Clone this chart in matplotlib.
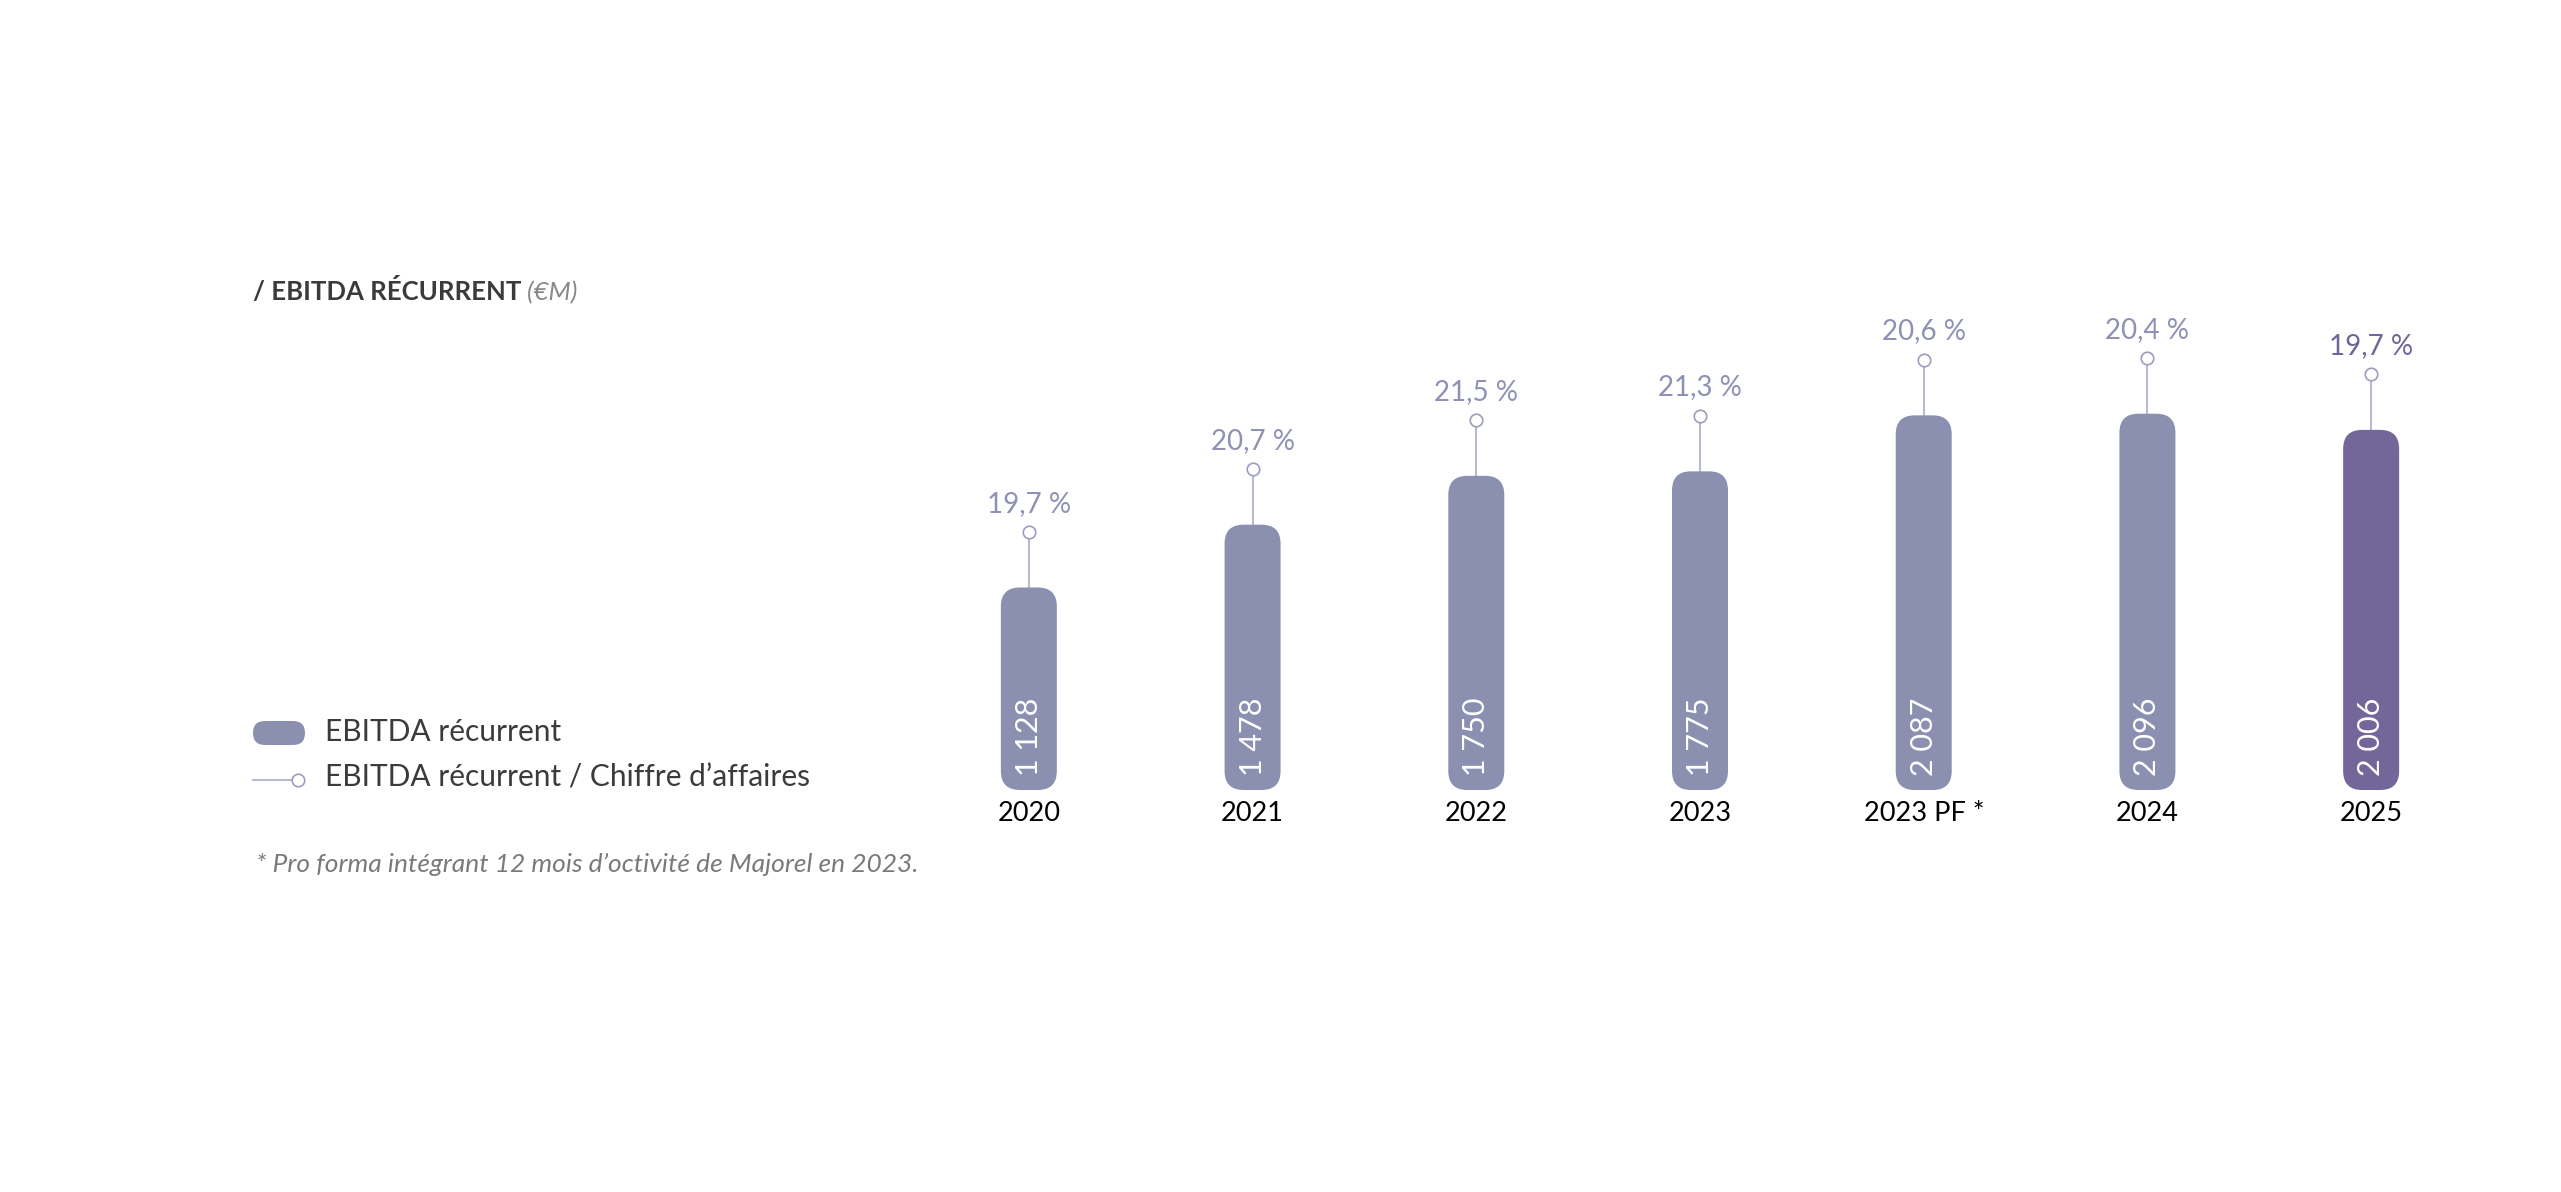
"""
EBITDA recurrent bar chart with margin markers.
"""

import matplotlib
matplotlib.use('Agg')
import matplotlib.pyplot as plt
from matplotlib.patches import FancyBboxPatch
import numpy as np

# data
years = ['2020', '2021', '2022', '2023', '2023 PF *', '2024', '2025']
ebitda = [1128, 1478, 1750, 1775, 2087, 2096, 2006]
margin = [19.7, 20.7, 21.5, 21.3, 20.6, 20.4, 19.7]

plt.rcParams['font.family'] = ['Lato', 'DejaVu Sans']

W, H = 2561, 1192
fig = plt.figure(figsize=(W/100, H/100), dpi=100)

# colours
c_bar = '#8c90b0'
c_last = '#736699'
c_stem = '#b9bbd2'
c_pct = '#8e91b5'
c_pct_last = '#6f6598'
c_txt = '#3b3b3b'

# main axes for the bars
x0_px, x1_px = 917, 2483
yb_px, yt_px = 790, 150
ymax = 3565
ax = fig.add_axes([x0_px/W, (H - yb_px)/H, (x1_px - x0_px)/W, (yb_px - yt_px)/H])
ax.set_xlim(-0.5, len(years) - 0.5)
ax.set_ylim(0, ymax)
ax.axis('off')

px_x = (x1_px - x0_px)/len(years)
px_y = (yb_px - yt_px)/ymax
bw = 56/px_x
rad = 19/px_x
stem = 310

x = np.arange(len(years))
for i in x:
    col = c_last if i == len(years) - 1 else c_bar
    p = FancyBboxPatch((i - bw/2, 0), bw, ebitda[i],
                       boxstyle='round,pad=0,rounding_size=%f' % rad,
                       mutation_aspect=px_x/px_y, fc=col, ec='none', zorder=2)
    ax.add_patch(p)
    top = ebitda[i] + stem
    ax.plot([i, i], [ebitda[i], top], color=c_stem, lw=1.5, zorder=1)
    ax.plot(i, top, 'o', ms=9, mfc='white', mec='#9c9ebd', mew=1.2, zorder=3)
    pc = c_pct_last if i == len(years) - 1 else c_pct
    ax.annotate(('%.1f %%' % margin[i]).replace('.', ','), (i, top),
                xytext=(0, 11), textcoords='offset points', ha='center', va='bottom',
                fontsize=20, color=pc)
    ax.annotate('{:,}'.format(ebitda[i]).replace(',', ' '), (i, 0),
                xytext=(0, 10), textcoords='offset points', ha='center', va='bottom',
                rotation=90, fontsize=22, color='white', zorder=4)
    ax.annotate(years[i], (i, 0), xytext=(0, -8), textcoords='offset points',
                ha='center', va='top', fontsize=19.5, color='black')

# overlay axes in pixel units for title, legend and footnote
ov = fig.add_axes([0, 0, 1, 1])
ov.set_xlim(0, W)
ov.set_ylim(H, 0)
ov.axis('off')

t1 = ov.text(253, 291, '/ EBITDA RÉCURRENT', fontsize=18.5, fontweight='bold',
             color=c_txt, va='center', ha='left')
ov.annotate(' (€M)', xy=(1, 0), xycoords=t1, va='bottom', ha='left',
            fontsize=18.5, style='italic', color='#888888')

# legend
pill = FancyBboxPatch((253, 721), 52, 24, boxstyle='round,pad=0,rounding_size=12',
                      fc=c_bar, ec='none')
ov.add_patch(pill)
ov.text(325, 732, 'EBITDA récurrent', fontsize=21.5, color=c_txt, va='center')
ov.plot([253, 293], [780, 780], color=c_stem, lw=1.5)
ov.plot(298, 780, 'o', ms=9, mfc='white', mec='#9c9ebd', mew=1.2)
ov.text(325, 777, 'EBITDA récurrent / Chiffre d’affaires', fontsize=21.5,
        color=c_txt, va='center')

ov.text(256, 864, '* Pro forma intégrant 12 mois d’octivité de Majorel en 2023.',
        fontsize=19, style='italic', color='#7a7a7a', va='center')

plt.savefig('out.png', dpi=100)
